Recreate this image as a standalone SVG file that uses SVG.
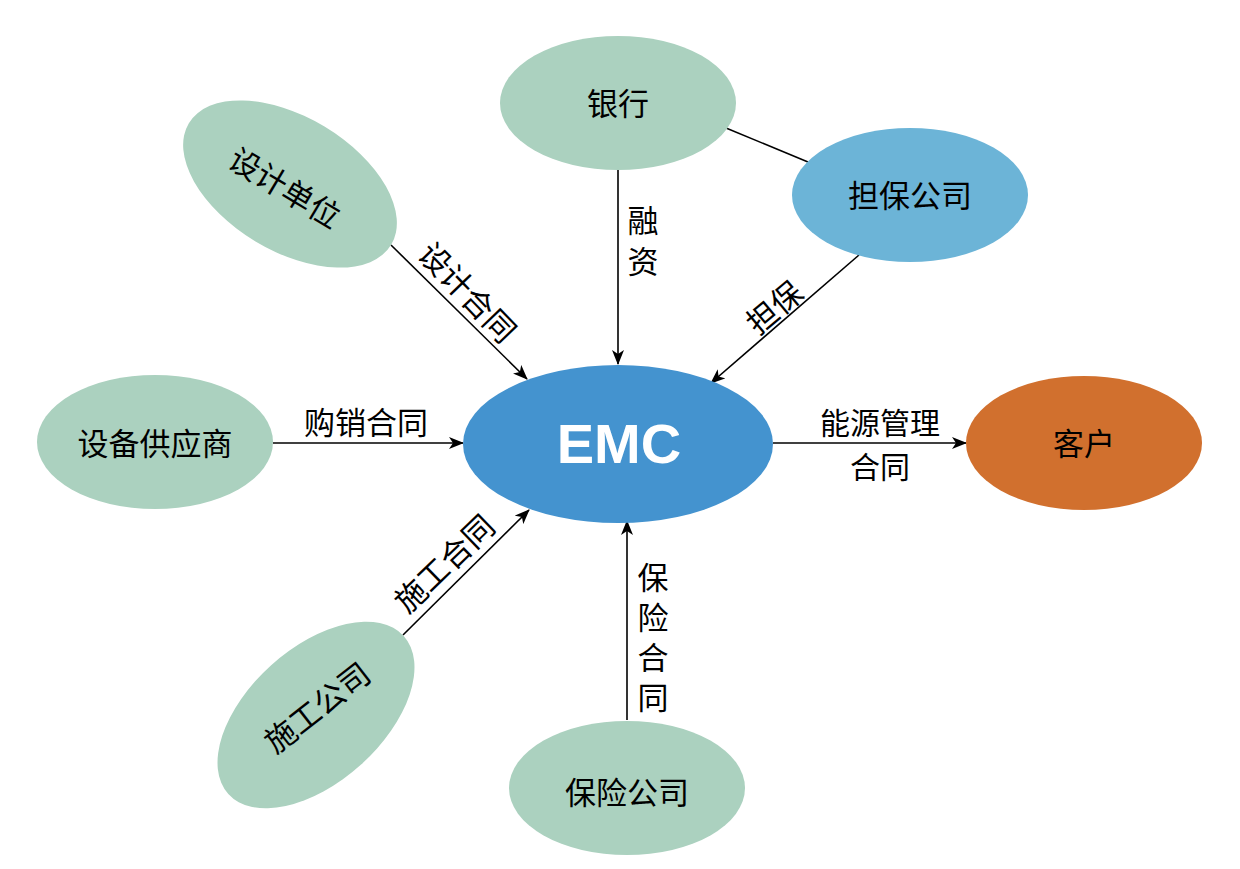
<svg xmlns="http://www.w3.org/2000/svg" width="1240" height="869" viewBox="0 0 1240 869">
<style>
.n{fill:#ABD1BF}
.t{font-family:"Noto Sans CJK SC","Liberation Sans",sans-serif;font-size:31px;fill:#000;text-anchor:middle;dominant-baseline:central}
.v{font-family:"Noto Sans CJK SC","Liberation Sans",sans-serif;font-size:31px;fill:#000;writing-mode:vertical-rl;text-anchor:start;dominant-baseline:central;text-orientation:upright}
.c{stroke:#000;stroke-width:1.6;fill:none}
</style>
<defs>
<marker id="ah" markerUnits="userSpaceOnUse" markerWidth="16" markerHeight="12" refX="14" refY="6" orient="auto">
<path d="M0,0 L15,6 L0,12 L4,6 Z" fill="#000"/>
</marker>
</defs>
<rect width="1240" height="869" fill="#fff"/>
<g id="connectors">
<line class="c" x1="618" y1="170" x2="618" y2="364" marker-end="url(#ah)"/>
<line class="c" x1="726" y1="128" x2="808" y2="162"/>
<line class="c" x1="859" y1="255" x2="711" y2="383" marker-end="url(#ah)"/>
<line class="c" x1="391" y1="245" x2="527" y2="379" marker-end="url(#ah)"/>
<line class="c" x1="273" y1="443" x2="463" y2="443" marker-end="url(#ah)"/>
<line class="c" x1="773" y1="443" x2="966" y2="443" marker-end="url(#ah)"/>
<line class="c" x1="403" y1="635" x2="529" y2="510" marker-end="url(#ah)"/>
<line class="c" x1="627" y1="720" x2="627" y2="521" marker-end="url(#ah)"/>
<text class="v" x="643" y="204.5" letter-spacing="10">融资</text>
<text class="t" transform="translate(773,306) rotate(-40)">担保</text>
<text class="t" transform="translate(469,291) rotate(46)">设计合同</text>
<text class="t" x="366" y="420">购销合同</text>
<text class="t" style="font-size:30px"><tspan x="880" y="421">能源管理</tspan><tspan x="880" y="465">合同</tspan></text>
<text class="t" transform="translate(443,562) rotate(-44)">施工合同</text>
<text class="v" x="653" y="561.5" letter-spacing="9">保险合同</text>
</g>
<g id="emc">
<ellipse cx="618" cy="444" rx="155" ry="79" fill="#4493CF"/>
<text x="619" y="443" font-family="Liberation Sans,Arial,sans-serif" font-weight="bold" font-size="56" fill="#fff" text-anchor="middle" dominant-baseline="central">EMC</text>
</g>
<g id="bank">
<ellipse class="n" cx="618" cy="103" rx="118" ry="67"/>
<text class="t" x="618" y="101">银行</text>
</g>
<g id="guarantee">
<ellipse cx="910" cy="195" rx="118" ry="67" fill="#6CB4D7"/>
<text class="t" x="910" y="193">担保公司</text>
</g>
<g id="design">
<ellipse class="n" cx="0" cy="0" rx="118" ry="67" transform="translate(290,184) rotate(31)"/>
<text class="t" transform="translate(286,186) rotate(31)">设计单位</text>
</g>
<g id="supplier">
<ellipse class="n" cx="155" cy="442" rx="118" ry="67"/>
<text class="t" x="155" y="441">设备供应商</text>
</g>
<g id="client">
<ellipse cx="1084" cy="443" rx="118" ry="67" fill="#D1702E"/>
<text class="t" x="1084" y="441">客户</text>
</g>
<g id="construction">
<ellipse class="n" cx="0" cy="0" rx="118" ry="67" transform="translate(316,715) rotate(-42)"/>
<text class="t" transform="translate(316,706) rotate(-38)">施工公司</text>
</g>
<g id="insurance">
<ellipse class="n" cx="627" cy="788" rx="118" ry="67"/>
<text class="t" x="627" y="790">保险公司</text>
</g>
</svg>
